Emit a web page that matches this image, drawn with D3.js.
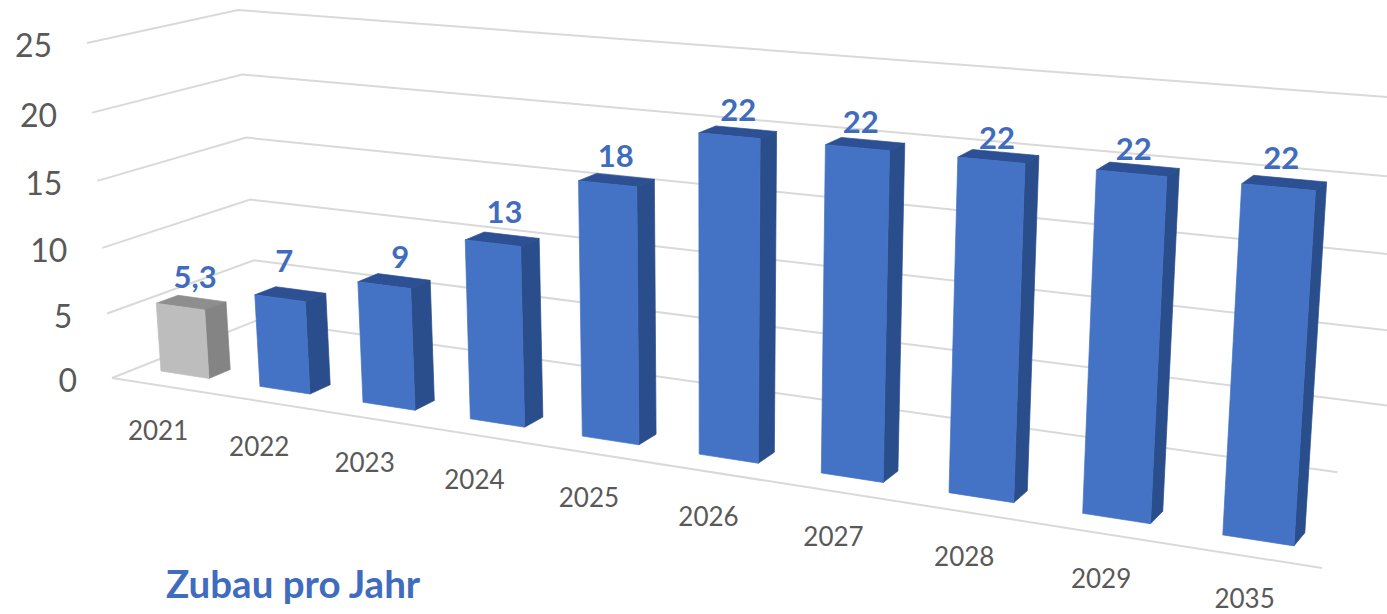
<!DOCTYPE html>
<html lang="de">
<head>
<meta charset="utf-8">
<title>Zubau pro Jahr</title>
<script src="https://cdn.jsdelivr.net/npm/d3@7"></script>
<style>
  html, body { margin: 0; padding: 0; background: #fff; }
  svg { display: block; }
  text { font-family: Lato, "Open Sans", sans-serif; }
</style>
</head>
<body>
<svg id="chart" width="1387" height="614"></svg>
<script>
// Chart values
const categories = ["2021", "2022", "2023", "2024", "2025", "2026", "2027", "2028", "2029", "2035"];
const values = [5.3, 7, 9, 13, 18, 22, 22, 22, 22, 22];
const valueLabels = ["5,3", "7", "9", "13", "18", "22", "22", "22", "22", "22"];
const valueTicks = [0, 5, 10, 15, 20, 25];
const titleText = "Zubau pro Jahr";

const width = 1387, height = 614;
const svg = d3.select("#chart");

// Scene box: the screen position of each corner of the 3D plot volume,
// named by side (front/back), end (left/right) and level (floor/top).
const box = {
  flb: [112, 378], frb: [1322, 568], blb: [258, 320], brb: [1392, 480],
  flt: [87, 43],   frt: [1348, 153], blt: [238, 10],  brt: [1420, 99.5]
};

// Foreshortening along the category axis and up the value axis.
const foreshortenX = t => t * 0.8035 / (1 - 0.1965 * t);
const foreshortenY = t => t * 0.953 / (1 - 0.047 * t);

const x = d3.scaleBand().domain(categories).range([0, 1]).paddingInner(0.51).paddingOuter(0.255);
const y = d3.scaleLinear().domain([0, 25]).range([0, 1]);

// Trilinear interpolation inside the box; straight lines along each axis stay straight.
function project(u, depth, value) {
  const a = foreshortenX(u), b = depth, c = foreshortenY(y(value));
  const mix = i => {
    const floor = (1 - b) * ((1 - a) * box.flb[i] + a * box.frb[i]) + b * ((1 - a) * box.blb[i] + a * box.brb[i]);
    const top = (1 - b) * ((1 - a) * box.flt[i] + a * box.frt[i]) + b * ((1 - a) * box.blt[i] + a * box.brt[i]);
    return (1 - c) * floor + c * top;
  };
  return [mix(0), mix(1)];
}

const polygon = d3.line().curve(d3.curveLinearClosed);
const barFront = 0.18, barBack = 0.33, barShift = -0.002;
const floorBackEnd = 0.961;

// Gridlines on the left and back walls
const grid = svg.append("g").attr("fill", "none").attr("stroke", "#D9D9D9").attr("stroke-width", 2);
grid.selectAll("path").data(valueTicks).join("path")
  .attr("d", t => d3.line()([
    project(0, 0, t),
    project(0, 1, t),
    project(t === 0 ? floorBackEnd : 1, 1, t)
  ]));
grid.append("path").attr("d", d3.line()([project(0, 0, 0), project(1, 0, 0)]));

// Value axis labels
svg.append("g").attr("fill", "#595959").attr("font-size", 32).attr("text-anchor", "end")
  .selectAll("text").data(valueTicks).join("text")
  .attr("x", t => project(0, 0, t)[0] - 35)
  .attr("y", t => project(0, 0, t)[1] + 14)
  .text(t => t);

// Category labels below the front floor edge, held inside the bottom of the page
svg.append("g").attr("fill", "#595959").attr("font-size", 26).attr("text-anchor", "middle")
  .selectAll("text").data(categories).join("text")
  .attr("x", c => project(x(c) + x.bandwidth() / 2, 0, 0)[0] - 3)
  .attr("y", c => Math.min(project(x(c) + x.bandwidth() / 2, 0, 0)[1] + 54, height - 6))
  .text(c => c);

// Bars: the first year is greyed out, the others use the series blue
const shades = i => i === 0
  ? { front: "#BDBDBD", side: "#848484", top: "#8E8E8E" }
  : { front: "#4472C4", side: "#2A4D8C", top: "#2C5093" };

const bars = svg.append("g").attr("stroke-width", 0.7).selectAll("g").data(categories).join("g");
bars.each(function (c, i) {
  const g = d3.select(this);
  const u0 = x(c) + barShift, u1 = u0 + x.bandwidth(), v = values[i], s = shades(i);
  const face = (fill, points) => g.append("path").attr("fill", fill).attr("stroke", fill).attr("d", polygon(points));
  face(s.top, [project(u0, barFront, v), project(u1, barFront, v), project(u1, barBack, v), project(u0, barBack, v)]);
  face(s.side, [project(u1, barFront, 0), project(u1, barBack, 0), project(u1, barBack, v), project(u1, barFront, v)]);
  face(s.front, [project(u0, barFront, 0), project(u1, barFront, 0), project(u1, barFront, v), project(u0, barFront, v)]);
});

// Value labels above the bars, each with its own small placement offset
const labelOffsetX = [2, -8, 4, 0, -3, -2, -7, -4, -7, -6];
const labelOffsetY = [-15, -22, -13, -16, -13, -11, -11, -8, -10, -14];
svg.append("g").attr("fill", "#406CBE").attr("font-size", 31).attr("font-weight", 700).attr("text-anchor", "middle")
  .selectAll("text").data(categories).join("text")
  .attr("x", (c, i) => project(x(c) + x.bandwidth() / 2, (barFront + barBack) / 2, values[i])[0] + labelOffsetX[i])
  .attr("y", (c, i) => project(x(c) + x.bandwidth() / 2, (barFront + barBack) / 2, values[i])[1] + labelOffsetY[i])
  .text((c, i) => valueLabels[i]);

// Caption
svg.append("text").attr("x", 166).attr("y", 598)
  .attr("fill", "#406CBE").attr("font-size", 38.5).attr("font-weight", 700)
  .text(titleText);
</script>
</body>
</html>
